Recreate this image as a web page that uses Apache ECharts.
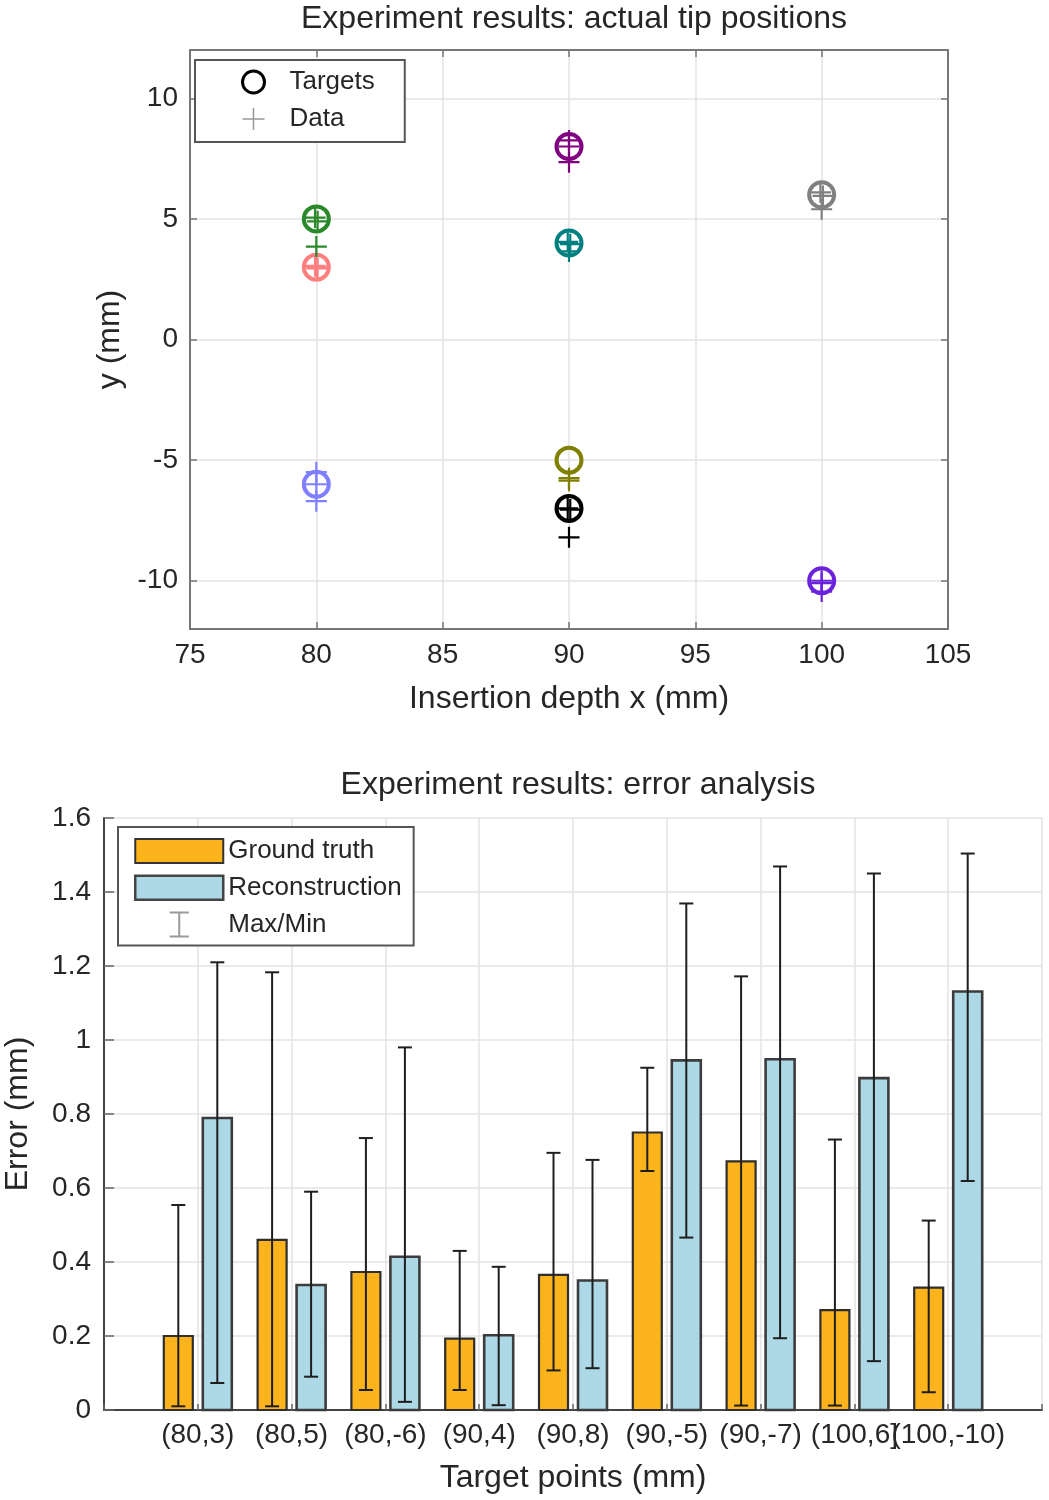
<!DOCTYPE html>
<html><head><meta charset="utf-8">
<script src="https://cdn.jsdelivr.net/npm/echarts@6/dist/echarts.min.js"></script>
<style>html,body{margin:0;padding:0;background:#fff}#c{width:1049px;height:1500px}</style>
</head><body><div id="c"></div>
<script>
// ---------- Top chart data ----------
const targetX = [80, 80, 80, 90, 90, 90, 90, 100, 100];
const targetY = [3, 5, -6, 4, 8, -5, -7, 6, -10];
const targetColors = ['#ff7f7f', '#2a8a2a', '#7f7fff', '#008080', '#800080', '#808000', '#000000', '#808080', '#6a22dd'];
// measured tip positions (group = index of target)
const dataX = [79.95, 80.05, 80, 79.95, 80.05, 80, 80, 80, 80, 89.95, 90.05, 90, 90, 90, 90, 90, 90, 89.95, 90.05, 90, 99.95, 100.05, 100, 100, 100, 100];
const dataY = [3.05, 2.95, 3.0, 5.05, 4.9, 3.85, -5.5, -6.0, -6.7, 4.05, 3.95, 3.65, 8.25, 8.0, 7.35, -5.75, -5.85, -7.0, -7.05, -8.2, 6.1, 5.95, 5.4, -10.0, -10.1, -10.45];
const dataGroup = [0, 0, 0, 1, 1, 1, 2, 2, 2, 3, 3, 3, 4, 4, 4, 5, 5, 6, 6, 6, 7, 7, 7, 8, 8, 8];
const yTicksTop = [-10, -5, 0, 5, 10];

// ---------- Bottom chart data ----------
const categories = ['(80,3)', '(80,5)', '(80,-6)', '(90,4)', '(90,8)', '(90,-5)', '(90,-7)', '(100,6]', '(100,-10)'];
const groundTruth = [0.20, 0.46, 0.373, 0.193, 0.365, 0.75, 0.672, 0.27, 0.331];
const gtMin = [0.01, 0.01, 0.054, 0.054, 0.107, 0.646, 0.012, 0.012, 0.048];
const gtMax = [0.554, 1.183, 0.735, 0.43, 0.695, 0.925, 1.172, 0.731, 0.512];
const reconstruction = [0.789, 0.338, 0.414, 0.202, 0.35, 0.945, 0.948, 0.897, 1.131];
const recMin = [0.073, 0.09, 0.022, 0.013, 0.113, 0.466, 0.194, 0.132, 0.619];
const recMax = [1.21, 0.59, 0.98, 0.387, 0.676, 1.369, 1.469, 1.45, 1.504];

const FONT = "'Liberation Sans', Arial, Helvetica, sans-serif";
const TXT = '#262626';
const GRID = '#e3e3e3';
const ORANGE = '#fdb31c';
const LIGHTBLUE = '#add8e6';

const chart = echarts.init(document.getElementById('c'), null, {renderer: 'canvas'});

const targetsData = targetX.map((x, i) => ({value: [x, targetY[i]], itemStyle: {borderColor: targetColors[i]}}));
const tipData = dataX.map((x, i) => ({value: [x, dataY[i]], itemStyle: {borderColor: targetColors[dataGroup[i]]}}));

const gtData = groundTruth.map((v, i) => [i + 1, v]);
const recData = reconstruction.map((v, i) => [i + 1, v]);
const errData = [];
categories.forEach((c, i) => {
  errData.push([i + 1, gtMin[i], gtMax[i], -1]);
  errData.push([i + 1, recMin[i], recMax[i], 1]);
});

const PLUS = 'path://M0,-10L0,10M-10,0L10,0';
const IBEAM = 'path://M-12,-15L12,-15M0,-15L0,15M-12,15L12,15';
const BAR_OFFSET = 19.5, BAR_W = 29;

function barRenderer(side, fill, stroke, lw) {
  return function (params, api) {
    const x = api.value(0), v = api.value(1);
    const p0 = api.coord([x, 0]);
    const p1 = api.coord([x, v]);
    const cx = p0[0] + side * BAR_OFFSET;
    return {type: 'rect',
      shape: {x: cx - BAR_W / 2, y: p1[1], width: BAR_W, height: p0[1] - p1[1]},
      style: {fill: fill, stroke: stroke, lineWidth: lw}};
  };
}

const option = {
  backgroundColor: '#fff',
  animation: false,
  textStyle: {fontFamily: FONT, color: TXT},
  title: [
    {text: 'Experiment results: actual tip positions', left: 569, top: -2, textAlign: 'center',
     textStyle: {fontFamily: FONT, fontSize: 32, fontWeight: 'normal', color: TXT}},
    {text: 'Experiment results: error analysis', left: 573, top: 764, textAlign: 'center',
     textStyle: {fontFamily: FONT, fontSize: 32, fontWeight: 'normal', color: TXT}}
  ],
  legend: [
    {left: 195, top: 60, orient: 'vertical',
     padding: [9, 30, 10, 46], itemWidth: 62, itemHeight: 22, itemGap: 11,
     backgroundColor: '#fff', borderColor: '#555', borderWidth: 2,
     textStyle: {fontFamily: FONT, fontSize: 26, color: TXT},
     data: [
       {name: 'Targets', icon: 'circle', itemStyle: {color: 'rgba(0,0,0,0)', borderColor: '#000', borderWidth: 3}},
       {name: 'Data', icon: PLUS, itemStyle: {color: 'rgba(0,0,0,0)', borderColor: '#999', borderWidth: 1.5}}
     ]},
    {left: 118, top: 827, orient: 'vertical',
     padding: [11, 12, 8, 16], itemWidth: 88, itemHeight: 24, itemGap: 10.5,
     backgroundColor: '#fff', borderColor: '#555', borderWidth: 2,
     textStyle: {fontFamily: FONT, fontSize: 26, color: TXT},
     data: [
       {name: 'Ground truth', icon: 'rect', itemStyle: {color: ORANGE, borderColor: '#333', borderWidth: 2}},
       {name: 'Reconstruction', icon: 'rect', itemStyle: {color: LIGHTBLUE, borderColor: '#444', borderWidth: 2.5}},
       {name: 'Max/Min', icon: IBEAM, itemStyle: {color: 'rgba(0,0,0,0)', borderColor: '#9a9a9a', borderWidth: 2}}
     ]}
  ],
  grid: [
    {left: 190, top: 50, width: 758, height: 579, containLabel: false, outerBoundsMode: 'none'},
    {left: 104, top: 818, width: 938, height: 592, containLabel: false, outerBoundsMode: 'none'}
  ],
  xAxis: [
    {gridIndex: 0, type: 'value', min: 75, max: 105, interval: 5, position: 'bottom',
     name: 'Insertion depth x (mm)', nameLocation: 'middle', nameGap: 54,
     nameTextStyle: {fontFamily: FONT, fontSize: 32, color: TXT},
     axisLine: {show: true, onZero: false, lineStyle: {color: '#777', width: 2}},
     axisTick: {show: true, inside: true, length: 7, lineStyle: {color: '#777', width: 1.5}},
     axisLabel: {fontFamily: FONT, fontSize: 28, color: TXT, margin: 12},
     splitLine: {show: true, lineStyle: {color: GRID, width: 1.5}}},
    {gridIndex: 0, type: 'value', min: 75, max: 105, interval: 5, position: 'top',
     axisLine: {show: true, onZero: false, lineStyle: {color: '#777', width: 2}},
     axisTick: {show: true, inside: true, length: 7, lineStyle: {color: '#777', width: 1.5}},
     axisLabel: {show: false}, splitLine: {show: false}},
    {gridIndex: 1, type: 'value', min: 0, max: 10, interval: 1, position: 'bottom',
     name: 'Target points (mm)', nameLocation: 'middle', nameGap: 52,
     nameTextStyle: {fontFamily: FONT, fontSize: 32, color: TXT},
     axisLine: {show: true, onZero: false, lineStyle: {color: '#444', width: 2}},
     axisTick: {show: true, inside: true, length: 6, lineStyle: {color: '#666', width: 1.5}},
     axisLabel: {fontFamily: FONT, fontSize: 28, color: TXT, margin: 11,
       formatter: v => (v >= 1 && v <= categories.length) ? categories[v - 1] : ''},
     splitLine: {show: true, lineStyle: {color: GRID, width: 1.5}}}
  ],
  yAxis: [
    {gridIndex: 0, type: 'value', min: -12, max: 12, position: 'left',
     name: 'y (mm)', nameLocation: 'middle', nameGap: 59, nameRotate: 90,
     nameTextStyle: {fontFamily: FONT, fontSize: 32, color: TXT},
     axisLine: {show: true, onZero: false, lineStyle: {color: '#777', width: 2}},
     axisTick: {show: true, inside: true, length: 7, customValues: yTicksTop, lineStyle: {color: '#777', width: 1.5}},
     axisLabel: {fontFamily: FONT, fontSize: 28, color: TXT, margin: 12, customValues: yTicksTop},
     splitLine: {show: true, lineStyle: {color: GRID, width: 1.5}}},
    {gridIndex: 0, type: 'value', min: -12, max: 12, position: 'right',
     axisLine: {show: true, onZero: false, lineStyle: {color: '#777', width: 2}},
     axisTick: {show: true, inside: true, length: 7, customValues: yTicksTop, lineStyle: {color: '#777', width: 1.5}},
     axisLabel: {show: false, customValues: yTicksTop}, splitLine: {show: false}},
    {gridIndex: 1, type: 'value', min: 0, max: 1.6, interval: 0.2, position: 'left',
     name: 'Error (mm)', nameLocation: 'middle', nameGap: 70, nameRotate: 90,
     nameTextStyle: {fontFamily: FONT, fontSize: 32, color: TXT},
     axisLine: {show: true, lineStyle: {color: '#444', width: 2}},
     axisTick: {show: true, inside: true, length: 10, lineStyle: {color: '#666', width: 1.5}},
     axisLabel: {fontFamily: FONT, fontSize: 28, color: TXT, margin: 13},
     splitLine: {show: true, lineStyle: {color: GRID, width: 1.5}}}
  ],
  series: [
    {name: 'Targets', type: 'scatter', xAxisIndex: 0, yAxisIndex: 0, symbol: 'circle', symbolSize: 25,
     itemStyle: {color: 'rgba(0,0,0,0)', borderWidth: 4, opacity: 1}, data: targetsData, z: 3},
    {name: 'Data', type: 'scatter', xAxisIndex: 0, yAxisIndex: 0, symbol: PLUS, symbolSize: 21,
     itemStyle: {color: 'rgba(0,0,0,0)', borderWidth: 2.2, opacity: 1}, data: tipData, z: 4},
    {name: 'Ground truth', type: 'custom', xAxisIndex: 2, yAxisIndex: 2, z: 2,
     itemStyle: {color: ORANGE}, data: gtData,
     renderItem: barRenderer(-1, ORANGE, '#2e2e2e', 2.2)},
    {name: 'Reconstruction', type: 'custom', xAxisIndex: 2, yAxisIndex: 2, z: 2,
     itemStyle: {color: LIGHTBLUE}, data: recData,
     renderItem: barRenderer(1, LIGHTBLUE, '#3c3c3c', 2.6)},
    {name: 'Max/Min', type: 'custom', xAxisIndex: 2, yAxisIndex: 2, z: 5, clip: false,
     itemStyle: {color: '#222'},
     data: errData,
     renderItem: function (params, api) {
       const x = api.value(0), lo = api.value(1), hi = api.value(2), side = api.value(3);
       const pLo = api.coord([x, lo]);
       const pHi = api.coord([x, hi]);
       const cx = pLo[0] + side * BAR_OFFSET;
       const cap = 7;
       const st = {stroke: '#1e1e1e', lineWidth: 2};
       return {type: 'group', children: [
         {type: 'line', shape: {x1: cx, y1: pHi[1], x2: cx, y2: pLo[1]}, style: st},
         {type: 'line', shape: {x1: cx - cap, y1: pHi[1], x2: cx + cap, y2: pHi[1]}, style: st},
         {type: 'line', shape: {x1: cx - cap, y1: pLo[1], x2: cx + cap, y2: pLo[1]}, style: st}
       ]};
     }}
  ]
};
chart.setOption(option);
</script>
</body></html>
